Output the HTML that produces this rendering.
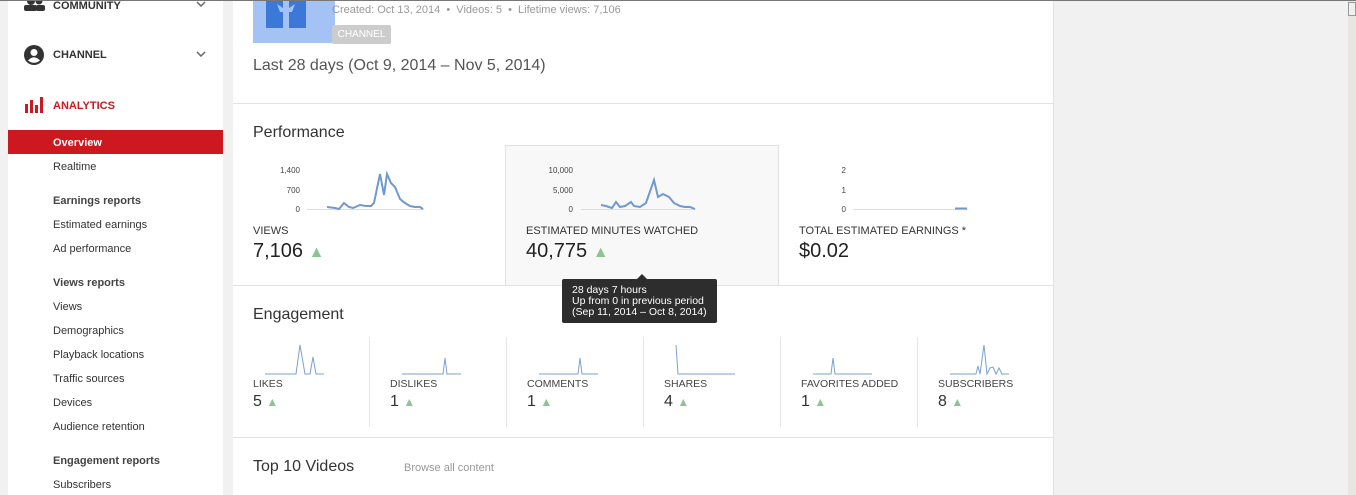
<!DOCTYPE html>
<html><head><style>
*{margin:0;padding:0;box-sizing:border-box}
body{width:1356px;height:495px;overflow:hidden;background:#f1f1f1;font-family:"Liberation Sans",Arial,sans-serif;position:relative;color:#333}
.a{position:absolute;white-space:nowrap}
.side{position:absolute;left:8px;top:0;width:215px;height:495px;background:#fff}
.main{position:absolute;left:233px;top:0;width:821px;height:495px;background:#fff;border-right:1px solid #e2e2e2}
.hr{position:absolute;left:233px;width:821px;height:1px;background:#e2e2e2}
.si{position:absolute;left:53px;font-size:11px;color:#333;line-height:14px;margin-top:1px}
.sh{position:absolute;left:53px;font-size:11px;color:#444;font-weight:bold;line-height:14px;margin-top:1px}
.lab{font-size:11px;color:#333;line-height:13px;margin-top:1px}
.big{font-size:20px;color:#222;line-height:22px}
.up{color:#8bc58f;font-size:16px}
.el{font-size:10.5px;color:#444;margin-top:1px}
.ev{font-size:16px;color:#333}
.vd{position:absolute;top:337px;width:1px;height:90px;background:#e5e5e5}
</style></head><body>
<div style="position:absolute;left:0;top:0;width:1356px;height:1px;background:#777;z-index:5"></div>
<div class="side"></div>
<div class="main"></div>
<div style="position:absolute;left:1348px;top:0;width:8px;height:495px;background:#e8e6e1"></div>
<div style="position:absolute;left:1348px;top:2px;width:8px;height:14px;background:#f0f0f0;border:1px solid #999"></div>

<svg class="a" style="left:24px;top:0" width="22" height="12"><circle cx="7" cy="1" r="4" fill="#333"/><circle cx="15" cy="1" r="3.5" fill="#333"/><rect x="0" y="5" width="13" height="6" rx="2" fill="#333"/><rect x="12" y="5" width="9" height="6" rx="2" fill="#333"/></svg>
<div class="a" style="left:53px;top:0;font-size:11px;font-weight:bold;color:#333">COMMUNITY</div>
<svg class="a" style="left:196px;top:1px" width="10" height="6"><polyline points="1,1 5,5 9,1" fill="none" stroke="#666" stroke-width="1.5"/></svg>
<svg class="a" style="left:24px;top:45px" width="20" height="20"><circle cx="10" cy="10" r="10" fill="#333"/><circle cx="10" cy="7.5" r="3.5" fill="#fff"/><path d="M4,15.5 Q10,9 16,15.5 Q10,20 4,15.5Z" fill="#fff"/></svg>
<div class="a" style="left:53px;top:49px;font-size:11px;font-weight:bold;color:#333">CHANNEL</div>
<svg class="a" style="left:196px;top:51px" width="10" height="6"><polyline points="1,1 5,5 9,1" fill="none" stroke="#666" stroke-width="1.5"/></svg>
<svg class="a" style="left:25px;top:97px" width="18" height="16"><rect x="0" y="7" width="3" height="9" fill="#cc181e"/><rect x="5" y="3" width="3" height="13" fill="#cc181e"/><rect x="10" y="8" width="3" height="8" fill="#cc181e"/><rect x="15" y="0" width="3" height="16" fill="#cc181e"/></svg>
<div class="a" style="left:53px;top:100px;font-size:11px;font-weight:bold;color:#cc181e">ANALYTICS</div>
<div style="position:absolute;left:8px;top:130px;width:215px;height:24px;background:#cc181e"></div>
<div class="si" style="top:135px;color:#fff;font-weight:bold">Overview</div>
<div class="si" style="top:159px">Realtime</div>
<div class="sh" style="top:193px">Earnings reports</div>
<div class="si" style="top:217px">Estimated earnings</div>
<div class="si" style="top:241px">Ad performance</div>
<div class="sh" style="top:275px">Views reports</div>
<div class="si" style="top:299px">Views</div>
<div class="si" style="top:323px">Demographics</div>
<div class="si" style="top:347px">Playback locations</div>
<div class="si" style="top:371px">Traffic sources</div>
<div class="si" style="top:395px">Devices</div>
<div class="si" style="top:419px">Audience retention</div>
<div class="sh" style="top:453px">Engagement reports</div>
<div class="si" style="top:477px">Subscribers</div>

<div style="position:absolute;left:253px;top:0;width:82px;height:43px;background:#a4c2f4"></div>
<div style="position:absolute;left:266px;top:0;width:40px;height:28px;background:#3c78d8"></div>
<svg class="a" style="left:266px;top:0" width="40" height="28"><polygon points="17,0 23,0 23,8 29,4 26,12 23,12 23,28 17,28 17,12 14,12 11,4 17,8" fill="#a4c2f4"/></svg>
<div class="a" style="left:332px;top:4px;font-size:11px;color:#999">Created: Oct 13, 2014 &nbsp;•&nbsp; Videos: 5 &nbsp;•&nbsp; Lifetime views: 7,106</div>
<div class="a" style="left:332px;top:25px;width:59px;height:19px;background:#ccc;border-radius:2px;color:#fff;font-size:10px;line-height:19px;text-align:center">CHANNEL</div>
<div class="a" style="left:253px;top:57px;font-size:16px;color:#555">Last 28 days (Oct 9, 2014 – Nov 5, 2014)</div>
<div class="hr" style="top:103px"></div>

<div class="a" style="left:253px;top:124px;font-size:16px;color:#333">Performance</div>
<div style="position:absolute;left:505px;top:145px;width:274px;height:141px;background:#f8f8f8;border:1px solid #e0e0e0;border-bottom:none"></div>
<svg class="a" style="left:0;top:0" width="1056" height="290" font-family="Liberation Sans,Arial,sans-serif" font-size="8" fill="#444">
<text x="300" y="173" text-anchor="end">1,400</text><text x="300" y="193" text-anchor="end">700</text><text x="300" y="212" text-anchor="end">0</text>
<line x1="307" y1="209.5" x2="424" y2="209.5" stroke="#ddd"/>
<polyline fill="none" stroke="#6f99cf" stroke-width="2" points="327,207 335,208 339,209 344,203 349,207 353,208 360,205 366,206 371,206 374,203 380,174 384,195 387,174 391,183 395,187 400,199 405,203 410,206 415,207 420,207 423,209"/>
<text x="573" y="173" text-anchor="end">10,000</text><text x="573" y="193" text-anchor="end">5,000</text><text x="573" y="212" text-anchor="end">0</text>
<line x1="581" y1="209.5" x2="695" y2="209.5" stroke="#ddd"/>
<polyline fill="none" stroke="#6f99cf" stroke-width="2" points="601,205 606,206 612,208 616,202 620,207 625,206 631,202 634,206 640,207 646,203 654,180 658,197 663,194 669,197 674,203 680,206 685,207 690,207 695,209"/>
<text x="846" y="173" text-anchor="end">2</text><text x="846" y="193" text-anchor="end">1</text><text x="846" y="212" text-anchor="end">0</text>
<line x1="853" y1="209.5" x2="968" y2="209.5" stroke="#ddd"/>
<line x1="955" y1="208.5" x2="967" y2="208.5" stroke="#6f99cf" stroke-width="2"/>
</svg>
<div class="a lab" style="left:253px;top:224px">VIEWS</div>
<div class="a big" style="left:253px;top:240px">7,106 <span class="up">▲</span></div>
<div class="a lab" style="left:526px;top:224px">ESTIMATED MINUTES WATCHED</div>
<div class="a big" style="left:526px;top:240px">40,775 <span class="up">▲</span></div>
<div class="a lab" style="left:799px;top:224px">TOTAL ESTIMATED EARNINGS *</div>
<div class="a big" style="left:799px;top:240px">$0.02</div>
<div class="hr" style="top:285px"></div>

<div style="position:absolute;left:562px;top:279px;width:155px;height:44px;background:#2d2d2d;border-radius:2px;z-index:3;color:#fff;font-size:10.5px;line-height:11px;padding:6px 0 0 10px">28 days 7 hours<br>Up from 0 in previous period<br>(Sep 11, 2014 – Oct 8, 2014)</div>
<div style="position:absolute;left:637px;top:274px;width:0;height:0;border-left:5px solid transparent;border-right:5px solid transparent;border-bottom:5px solid #2d2d2d;z-index:3"></div>

<div class="a" style="left:253px;top:306px;font-size:16px;color:#333">Engagement</div>
<div class="vd" style="left:369px"></div><div class="vd" style="left:506px"></div><div class="vd" style="left:643px"></div><div class="vd" style="left:780px"></div><div class="vd" style="left:917px"></div>
<svg class="a" style="left:0;top:0" width="1056" height="380">
<g fill="none" stroke="#7aa0d4" stroke-width="1">
<polyline points="265,374 296,374 300,345 305,374 310,374 313,357 316,374 324,374"/>
<polyline points="402,374 443,374 445,358 447,374 461,374"/>
<polyline points="539,374 578,374 580,358 582,374 598,374"/>
<polyline points="676,345 678,374 735,374"/>
<polyline points="813,374 831,374 833,358 835,374 872,374"/>
<polyline points="950,374 976,374 978,366 980,374 984,345 987,374 990,368 993,367 996,374 999,368 1002,374 1009,374"/>
</g></svg>
<div class="a el" style="left:253px;top:377px">LIKES</div><div class="a ev" style="left:253px;top:393px">5 <span class="up" style="font-size:12px">▲</span></div>
<div class="a el" style="left:390px;top:377px">DISLIKES</div><div class="a ev" style="left:390px;top:393px">1 <span class="up" style="font-size:12px">▲</span></div>
<div class="a el" style="left:527px;top:377px">COMMENTS</div><div class="a ev" style="left:527px;top:393px">1 <span class="up" style="font-size:12px">▲</span></div>
<div class="a el" style="left:664px;top:377px">SHARES</div><div class="a ev" style="left:664px;top:393px">4 <span class="up" style="font-size:12px">▲</span></div>
<div class="a el" style="left:801px;top:377px">FAVORITES ADDED</div><div class="a ev" style="left:801px;top:393px">1 <span class="up" style="font-size:12px">▲</span></div>
<div class="a el" style="left:938px;top:377px">SUBSCRIBERS</div><div class="a ev" style="left:938px;top:393px">8 <span class="up" style="font-size:12px">▲</span></div>
<div class="hr" style="top:437px"></div>

<div class="a" style="left:253px;top:458px;font-size:16px;color:#333">Top 10 Videos</div>
<div class="a" style="left:404px;top:462px;font-size:11px;color:#999">Browse all content</div>
</body></html>
